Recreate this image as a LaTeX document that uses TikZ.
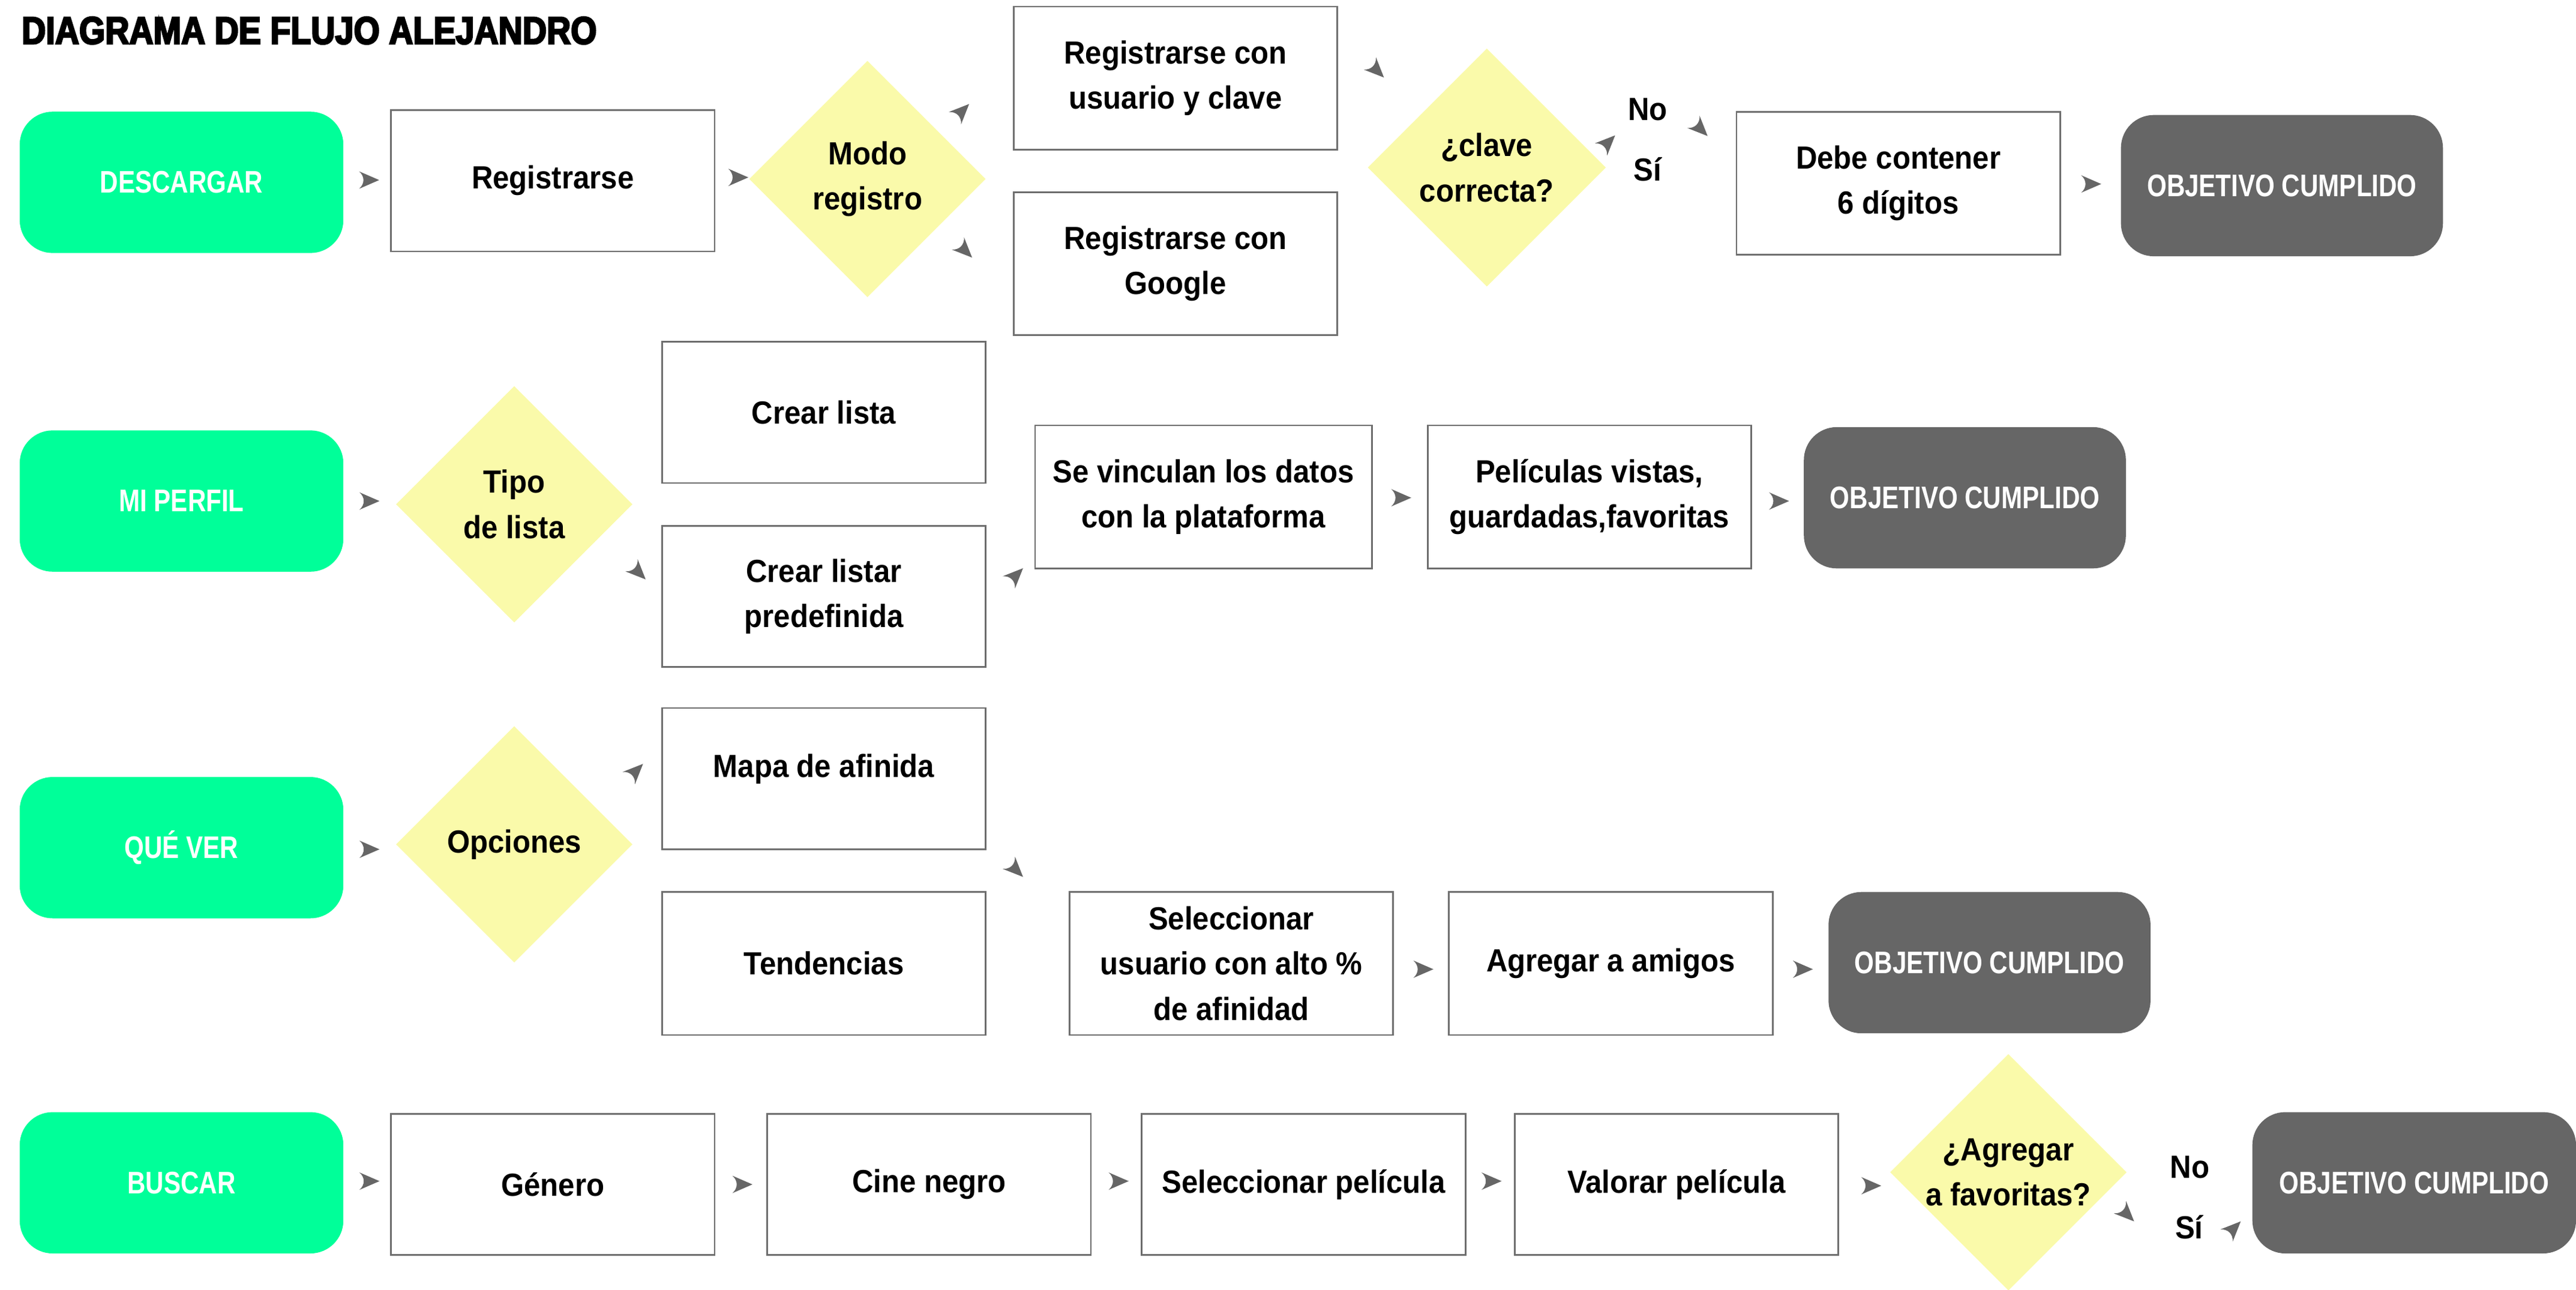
\documentclass[tikz,border=0pt]{standalone}
\usepackage{fontspec}
\setmainfont{Liberation Sans}[FakeStretch=0.92]
\newfontfamily\condfam{Liberation Sans}[FakeStretch=0.81]
\newfontfamily\titlefam{Liberation Sans}[FakeStretch=0.865,FakeBold=4]
\usetikzlibrary{shapes.geometric}
\definecolor{fgreen}{HTML}{00FF99}
\definecolor{fdark}{HTML}{666666}
\definecolor{fyel}{HTML}{FAFAAA}
\definecolor{bgray}{HTML}{6E6E6E}
\newcommand\fbody{\fontsize{19.5}{27.5}\selectfont\bfseries}
\newcommand\fcond{\condfam\fontsize{19}{24}\selectfont\bfseries}
\newcommand\ftitle{\titlefam\fontsize{23.5}{28}\selectfont\bfseries}
\begin{document}
\begin{tikzpicture}[x=1pt,y=-1pt,
  box/.style={draw=bgray, line width=1pt, fill=white, minimum width=197pt, minimum height=86pt, inner sep=0pt, align=center, font=\fbody},
  startbox/.style={fill=fgreen, rounded corners=20pt, minimum width=197pt, minimum height=86pt, inner sep=0pt, text=white, font=\fcond},
  goalbox/.style={startbox, fill=fdark},
  dia/.style={diamond, fill=fyel, minimum width=144pt, minimum height=144pt, inner sep=0pt},
  lbl/.style={inner sep=0pt, align=center, font=\fbody},
  ahd/.pic={\fill[fdark] (0,0) -- (-12.2,5.3) .. controls (-8.7,2.2) and (-8.7,-2.2) .. (-12.2,-5.3) -- cycle;}
]
\useasboundingbox (0,0) rectangle (1568,785);

\node[anchor=base west, inner sep=0pt, font=\ftitle] (title) at (13,26.7) {DIAGRAMA DE FLUJO ALEJANDRO};

% Row 1
\node[startbox] (descargar) at (110.5,111) {DESCARGAR};
\node[box] (registrarse) at (336.5,110) {Registrarse};
\node[dia] (modo) at (528,109) {};
\node[lbl] (modot) at (modo) {Modo\\registro};
\node[box, minimum height=87pt] (usuario) at (715.5,47.5) {Registrarse con\\usuario y clave};
\node[box, minimum height=87pt] (google) at (715.5,160.5) {Registrarse con\\Google};
\node[dia, minimum width=145pt, minimum height=145pt] (clave) at (905,102) {};
\node[lbl] (clavet) at (clave) {¿clave\\correcta?};
\node[lbl] (no1) at (1003,66.5) {No};
\node[lbl] (si1) at (1003,103) {Sí};
\node[box, minimum height=87pt] (debe) at (1155.5,111.5) {Debe contener\\6 dígitos};
\node[goalbox, minimum width=196pt] (obj1) at (1389,113) {OBJETIVO CUMPLIDO};

% Row 2
\node[startbox] (perfil) at (110.5,305) {MI PERFIL};
\node[dia] (tipo) at (313,307) {};
\node[lbl] (tipot) at (tipo) {Tipo\\de lista};
\node[box] (crear) at (501.5,251) {Crear lista};
\node[box] (predef) at (501.5,363) {Crear listar\\predefinida};
\node[box, minimum width=205pt, minimum height=87pt] (vinculan) at (732.5,302.5) {Se vinculan los datos\\con la plataforma};
\node[box, minimum height=87pt] (peliculas) at (967.5,302.5) {Películas vistas,\\guardadas,favoritas};
\node[goalbox, minimum width=196pt] (obj2) at (1196,303) {OBJETIVO CUMPLIDO};

% Row 3
\node[startbox] (quever) at (110.5,516) {QUÉ VER};
\node[dia] (opciones) at (313,514) {};
\node[lbl] (opcionest) at (opciones) {Opciones};
\node[box] (mapa) at (501.5,474) {\raisebox{6pt}[0.72em][0.2em]{Mapa de afinida}};
\node[box, minimum height=87pt] (tendencias) at (501.5,586.5) {Tendencias};
\node[box, minimum height=87pt] (selecc) at (749.5,586.5) {Seleccionar\\usuario con alto \%\\de afinidad};
\node[box, minimum height=87pt] (amigos) at (980.5,586.5) {Agregar a amigos};
\node[goalbox, minimum width=196pt] (obj3) at (1211,586) {OBJETIVO CUMPLIDO};

% Row 4
\node[startbox] (buscar) at (110.5,720) {BUSCAR};
\node[box] (genero) at (336.5,721) {Género};
\node[box] (cine) at (565.5,721) {Cine negro};
\node[box] (selpel) at (793.5,721) {Seleccionar película};
\node[box] (valorar) at (1020.5,721) {Valorar película};
\node[dia] (fav) at (1222.5,713.6) {};
\node[lbl] (favt) at (fav) {¿Agregar\\a favoritas?};
\node[lbl] (no4) at (1333,710.7) {No};
\node[lbl] (si4) at (1332.5,747) {Sí};
\node[goalbox] (obj4) at (1469.5,720) {OBJETIVO CUMPLIDO};

% connector arrowheads (tips)
\coordinate (a1) at (230.8,109.6);
\coordinate (a2) at (455.5,108);
\coordinate (a3) at (589.9,63.3);
\coordinate (a4) at (591.7,156.8);
\coordinate (a5) at (842.4,47.2);
\coordinate (a6) at (983.1,82.4);
\coordinate (a7) at (1039.4,82.8);
\coordinate (a8) at (1279,112);
\coordinate (b1) at (231,305);
\coordinate (b2) at (393,352.7);
\coordinate (b3) at (622.7,345.9);
\coordinate (b4) at (859,303);
\coordinate (b5) at (1089,305);
\coordinate (c1) at (231,517);
\coordinate (c2) at (391.4,465);
\coordinate (c3) at (622.7,533.8);
\coordinate (c4) at (872.5,590);
\coordinate (c5) at (1103.5,590);
\coordinate (d1) at (231,719);
\coordinate (d2) at (458,721);
\coordinate (d3) at (687,719);
\coordinate (d4) at (914,719);
\coordinate (d5) at (1145.1,721.8);
\coordinate (d6) at (1299,743.5);
\coordinate (d7) at (1363.9,743.5);

\foreach \t in {a1,a2,a8,b1,b4,b5,c1,c4,c5,d1,d2,d3,d4,d5}
  \pic at (\t) {ahd};
\foreach \t in {a3,a6,b3,c2,d7}
  \pic[rotate=45] at (\t) {ahd};
\foreach \t in {a4,a5,a7,b2,c3,d6}
  \pic[rotate=-45] at (\t) {ahd};
\end{tikzpicture}
\end{document}
